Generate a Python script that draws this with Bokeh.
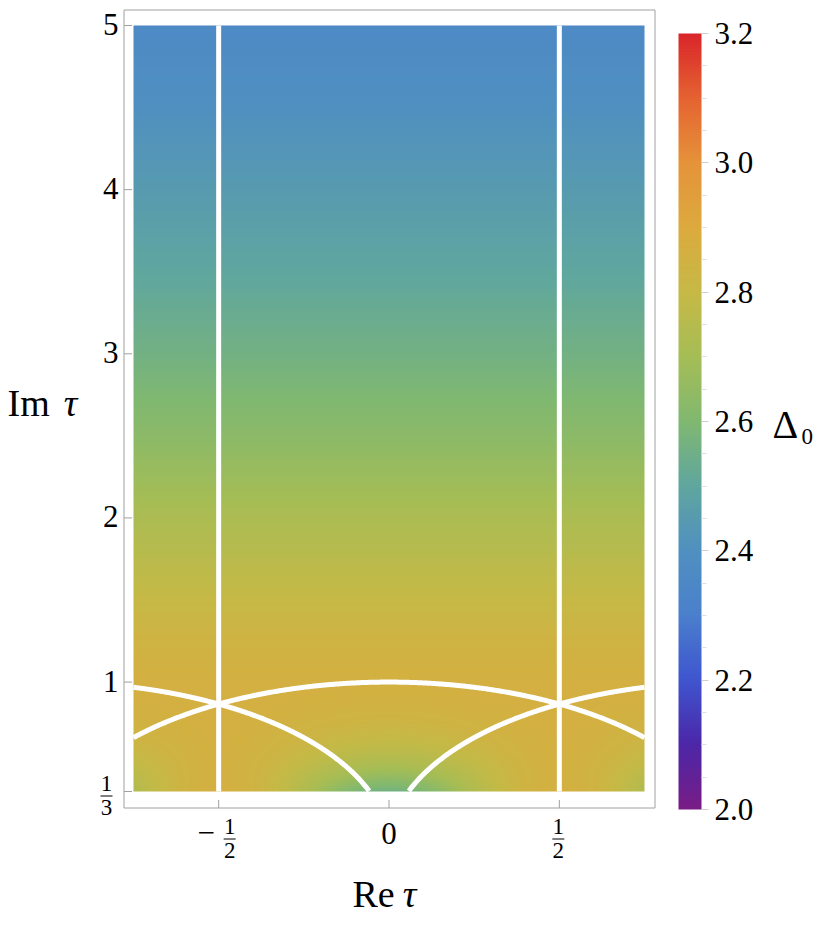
import numpy as np
from bokeh.plotting import figure
from bokeh.models import (LinearColorMapper, ColorBar, FixedTicker, Range1d,
                          PrintfTickFormatter, ColumnDataSource)
from bokeh.core.properties import value
from bokeh.embed import file_html
from bokeh.resources import INLINE

# ---------------- data ----------------
re_bounds = [-0.75, 0.75]
im_bounds = [1.0 / 3.0, 5.0]

# Delta_0 along Im(tau) in the fundamental domain
im_profile = [0.866, 1.0, 1.25, 1.5, 2.0, 2.5, 3.0, 3.5, 4.0, 4.5, 5.0]
delta_profile = [2.87, 2.86, 2.84, 2.80, 2.72, 2.63, 2.56, 2.50, 2.45, 2.40, 2.36]

# boundary curves of the fundamental domain and its images
boundary_re = [-0.5, 0.5]
arc_centers = [-1.0, 0.0, 1.0]
arc_radii = [1.0, 1.0, 1.0]

x_ticks = [-0.5, 0.0, 0.5]
x_tick_labels = ["-1/2", "0", "1/2"]
y_ticks = [1.0 / 3.0, 1.0, 2.0, 3.0, 4.0, 5.0]
y_tick_labels = ["1/3", "1", "2", "3", "4", "5"]

cb_low, cb_high = 2.0, 3.2
cb_ticks = [2.0, 2.2, 2.4, 2.6, 2.8, 3.0, 3.2]
cb_minor = [2.05, 2.1, 2.15, 2.25, 2.3, 2.35, 2.45, 2.5, 2.55, 2.65, 2.7, 2.75,
            2.85, 2.9, 2.95, 3.05, 3.1, 3.15]

pal_values = [2.0, 2.1, 2.2, 2.3, 2.4, 2.5, 2.6, 2.7, 2.8, 2.9, 3.0, 3.1, 3.2]
pal_colors = ["#781c86", "#4b27a8", "#3f55cf", "#4a80cc", "#5090c0", "#5fa69f",
              "#80b870", "#a5bd55", "#c6b946", "#dcaa3e", "#e5933a", "#e56431", "#d9262a"]

# ---------------- layout / styling (pixels) ----------------
W, H = 824, 924
DATA_L, DATA_R, DATA_T, DATA_B = 133, 644, 25, 791
BOX_L, BOX_R, BOX_T, BOX_B = 123.5, 654.5, 9.5, 807.5
TICK_LEN = 8
FONT = "Liberation Serif"
GRAY = "#a0a0a0"
TICK_FS, FRAC_FS, TITLE_FS = 31, 23, 38
CB_LEFT, CB_BOTTOM, CB_W, CB_H = 678, 809, 23, 776


def build_palette(values, colors, n=256):
    rgb = np.array([[int(c[i:i + 2], 16) for i in (1, 3, 5)] for c in colors], float)
    out = []
    for v in np.linspace(values[0], values[-1], n):
        r, g, b = (np.interp(v, values, rgb[:, k]) for k in range(3))
        out.append("#%02x%02x%02x" % (int(round(r)), int(round(g)), int(round(b))))
    return out


palette = build_palette(pal_values, pal_colors)

data_w = re_bounds[1] - re_bounds[0]
data_h = im_bounds[1] - im_bounds[0]
sx = (DATA_R - DATA_L) / data_w          # px per unit along Re
sy = (DATA_B - DATA_T) / data_h          # px per unit along Im
x0 = re_bounds[0] - DATA_L / sx
y1 = im_bounds[1] + DATA_T / sy


def px2x(px):
    return x0 + px / sx


def py2y(py):
    return y1 - py / sy


p = figure(width=W, height=H, x_range=Range1d(x0, x0 + W / sx), y_range=Range1d(y1 - H / sy, y1),
           x_axis_location=None, y_axis_location=None, min_border=0,
           output_backend="svg", toolbar_location=None)
p.outline_line_color = None
p.background_fill_color = "white"
p.border_fill_color = "white"
p.grid.visible = False
p.xgrid.grid_line_color = None
p.ygrid.grid_line_color = None

# ---------------- field: Delta_0 over the tau plane ----------------
nx, ny = 320, 480
gx = re_bounds[0] + (np.arange(nx) + 0.5) * data_w / nx
gy = im_bounds[0] + (np.arange(ny) + 0.5) * data_h / ny
X, Y = np.meshgrid(gx, gy)
T = X + 1j * Y
for _ in range(40):
    T = T - np.round(T.real)
    inside = np.abs(T) < 1.0
    T = np.where(inside, -1.0 / T, T)
T = T - np.round(T.real)
Z = np.interp(T.imag, im_profile, delta_profile)

mapper = LinearColorMapper(palette=palette, low=cb_low, high=cb_high)
p.image(image=[Z], x=re_bounds[0], y=im_bounds[0], dw=data_w, dh=data_h, color_mapper=mapper)

# ---------------- white boundary curves ----------------
p.segment(x0=boundary_re, y0=[im_bounds[0]] * len(boundary_re),
          x1=boundary_re, y1=[im_bounds[1]] * len(boundary_re),
          line_color="white", line_width=5)

arc_xs, arc_ys = [], []
for cx, r in zip(arc_centers, arc_radii):
    xa = np.linspace(max(cx - r, re_bounds[0]), min(cx + r, re_bounds[1]), 400)
    ya = np.sqrt(np.clip(r * r - (xa - cx) ** 2, 0, None))
    keep = ya >= im_bounds[0]
    if keep.sum() > 1:
        arc_xs.append(list(xa[keep]))
        arc_ys.append(list(ya[keep]))
p.multi_line(xs=arc_xs, ys=arc_ys, line_color="white", line_width=5)

# ---------------- axes box and ticks ----------------
p.quad(left=[px2x(BOX_L)], right=[px2x(BOX_R)], top=[py2y(BOX_T)], bottom=[py2y(BOX_B)],
       fill_color=None, line_color=GRAY, line_width=1)
p.segment(x0=x_ticks, y0=[py2y(BOX_B)] * len(x_ticks),
          x1=x_ticks, y1=[py2y(BOX_B - TICK_LEN)] * len(x_ticks),
          line_color=GRAY, line_width=1)
p.segment(x0=[px2x(BOX_L)] * len(y_ticks), y0=y_ticks,
          x1=[px2x(BOX_L + TICK_LEN)] * len(y_ticks), y1=y_ticks,
          line_color=GRAY, line_width=1)


def draw_text(xs, ys, texts, size, align="center", style="normal"):
    # texts are vertically centred on the given y
    src = ColumnDataSource(dict(x=list(xs), y=list(ys), t=list(texts)))
    p.text(x="x", y="y", text="t", source=src, text_font=value(FONT),
           text_font_size=value(f"{size}px"), text_font_style=style,
           text_align=align, text_baseline="middle", text_color="black")


def frac_parts(lbl):
    neg = lbl.startswith("-")
    num, den = lbl.lstrip("-").split("/")
    return neg, num, den


# x tick labels
plain_x = [(t, s) for t, s in zip(x_ticks, x_tick_labels) if "/" not in s]
draw_text([t for t, _ in plain_x], [py2y(833)] * len(plain_x), [s for _, s in plain_x], TICK_FS)
for t, s in zip(x_ticks, x_tick_labels):
    if "/" in s:
        neg, num, den = frac_parts(s)
        dx = (11 if neg else -1) / sx
        if neg:
            draw_text([t - 12.5 / sx], [py2y(832)], ["\u2212"], TICK_FS)
        draw_text([t + dx], [py2y(826)], [num], FRAC_FS)
        draw_text([t + dx], [py2y(850)], [den], FRAC_FS)
        p.segment(x0=[t + dx - 6 / sx], x1=[t + dx + 6 / sx], y0=[py2y(838.5)], y1=[py2y(838.5)],
                  line_color="black", line_width=1)

# y tick labels
plain_y = [(t, s) for t, s in zip(y_ticks, y_tick_labels) if "/" not in s]
draw_text([px2x(118)] * len(plain_y), [t + 1 / sy for t, _ in plain_y], [s for _, s in plain_y],
          TICK_FS, align="right")
for t, s in zip(y_ticks, y_tick_labels):
    if "/" in s:
        neg, num, den = frac_parts(s)
        xc = px2x(106)
        draw_text([xc], [t + 8.5 / sy], [num], FRAC_FS)
        draw_text([xc], [t - 16 / sy], [den], FRAC_FS)
        p.segment(x0=[xc - 6 / sx], x1=[xc + 6 / sx], y0=[t - 4.5 / sy], y1=[t - 4.5 / sy],
                  line_color="black", line_width=1)

# axis titles
draw_text([px2x(7)], [py2y(402.5)], ["Im"], TITLE_FS, align="left")
draw_text([px2x(70)], [py2y(402.5)], ["\u03c4"], TITLE_FS, style="italic")
draw_text([px2x(352)], [py2y(893.5)], ["Re"], TITLE_FS, align="left")
draw_text([px2x(409)], [py2y(893.5)], ["\u03c4"], TITLE_FS, style="italic")

# colour-bar title
draw_text([px2x(772)], [py2y(423.5)], ["\u0394"], 40, align="left")
draw_text([px2x(801)], [py2y(436)], ["0"], FRAC_FS, align="left")

# ---------------- colour bar ----------------
cb = ColorBar(color_mapper=mapper, ticker=FixedTicker(ticks=cb_ticks, minor_ticks=cb_minor),
              formatter=PrintfTickFormatter(format="%.1f"),
              width=CB_W, height=CB_H, location=(CB_LEFT, H - CB_BOTTOM), padding=0, margin=0,
              bar_line_color=None, background_fill_color=None,
              major_tick_in=0, major_tick_out=7, major_tick_line_color="#cfcfcf",
              minor_tick_in=0, minor_tick_out=5, minor_tick_line_color="#e0e0e0",
              label_standoff=6, major_label_text_font=FONT,
              major_label_text_font_size=f"{TICK_FS}px", major_label_text_color="black")
p.add_layout(cb)

open("out.html", "w").write(file_html(p, INLINE))
